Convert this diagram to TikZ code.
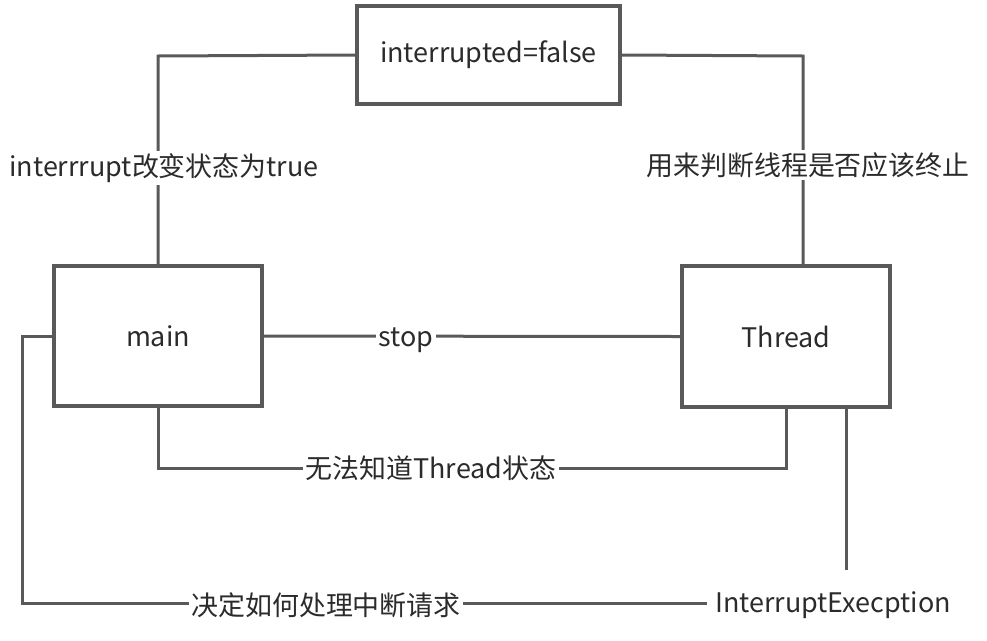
\documentclass[tikz,border=0pt]{standalone}
\usepackage{fontspec}
\setmainfont{Noto Sans CJK SC}
\usetikzlibrary{calc}
\definecolor{ln}{HTML}{595959}
\definecolor{tx}{HTML}{2b2b2b}
\begin{document}
\begin{tikzpicture}[x=0.75pt,y=-0.75pt,
  box/.style={draw=ln,line width=3pt,fill=white,minimum width=#1},
  conn/.style={draw=ln,line width=2.25pt},
  lbl/.style={fill=white,text=tx,inner sep=2pt},
  every node/.style={text=tx,font=\fontsize{20.2pt}{24pt}\selectfont}]
\useasboundingbox (0,0) rectangle (987,640);
\node[box=197.25pt,minimum height=73.5pt] (flag) at (488.5,55) {\raisebox{-2pt}{interrupted=false}};
\node[box=156pt,minimum height=105pt] (main) at (158,336) {\raisebox{-2pt}{main}};
\node[box=156pt,minimum height=105.75pt] (thread) at (786,336.5) {\raisebox{-2pt}{Thread}};
\coordinate (tl) at (158,56);
\coordinate (tr) at (803,56);
\coordinate (bl) at (22,603);
\coordinate (exc) at (846,570);
% connectors
\draw[conn] (main.north) -- (tl) -- (flag.west);
\draw[conn] (flag.east) -- (tr) -- ([xshift=12.75pt]thread.north);
\draw[conn] (main.east) -- (thread.west);
\draw[conn] (main.south) -- ++(0,60) -| (thread.south);
\draw[conn] ([xshift=45pt]thread.south) -- (exc);
\node[inner sep=6pt] (ie) at (833,605) {InterruptExecption};
\draw[conn] (ie.west |- bl) -- (bl) |- (main.west);
% labels
\node[lbl] (l1) at (164,168) {interrrupt改变状态为true};
\node[lbl] (l2) at (808,165) {用来判断线程是否应该终止};
\node[lbl] (l3) at (406,340) {stop};
\node[lbl] (l4) at (431,468) {无法知道Thread状态};
\node[lbl] (l5) at (326,605) {决定如何处理中断请求};
\end{tikzpicture}
\end{document}
